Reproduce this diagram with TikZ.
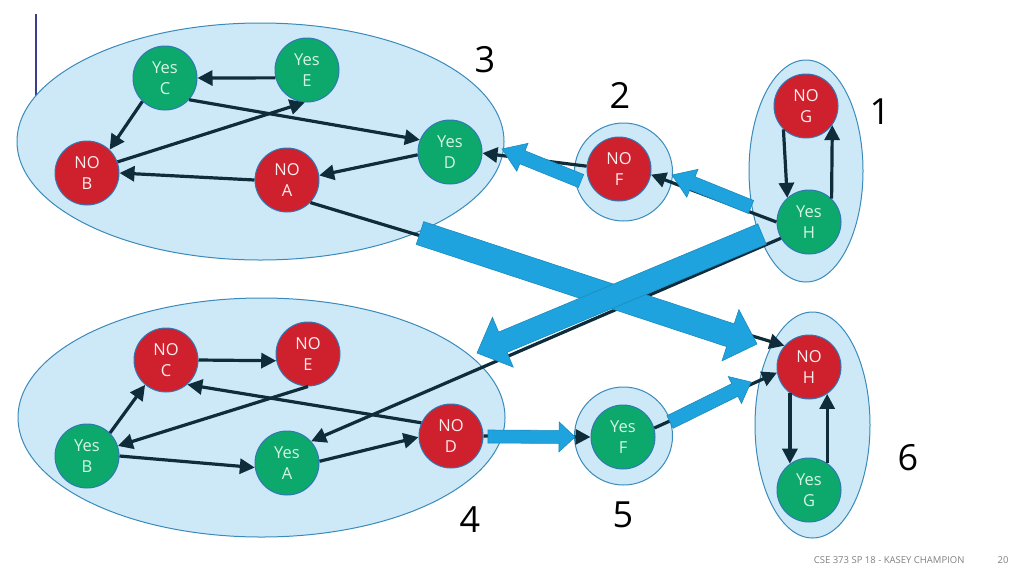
\documentclass[tikz,border=0pt]{standalone}
\usepackage{fontspec}
\setmainfont{Open Sans}
\usetikzlibrary{arrows.meta,calc,shapes.geometric}
\definecolor{sccfill}{HTML}{CDE9F7}
\definecolor{sccline}{HTML}{3A8ABB}
\definecolor{nored}{HTML}{CF202E}
\definecolor{yesgreen}{HTML}{0DA86B}
\definecolor{nodeline}{HTML}{2F78B5}
\definecolor{edgecol}{HTML}{0F2C3A}
\definecolor{blockblue}{HTML}{1FA3DF}
\definecolor{notext}{HTML}{FDEDED}
\definecolor{yestext}{HTML}{D6F5E6}
\definecolor{footgray}{HTML}{7F7F7F}
\definecolor{barcol}{HTML}{3C3C8C}
\tikzset{
  scc/.style={draw=sccline, fill=sccfill, line width=1pt, inner sep=0pt},
  vtx/.style={circle, minimum size=64pt, inner sep=0pt, draw=nodeline, line width=1pt, align=center, font=\fontsize{16.5}{21.5}\selectfont},
  novtx/.style={vtx, fill=nored, text=notext},
  yesvtx/.style={vtx, fill=yesgreen, text=yestext},
  edge/.style={draw=edgecol, line width=3.2pt, -{Triangle[length=15pt,width=15pt]}},
  bigarrow/.style={fill=blockblue, draw=blockblue!85!black, line width=0.6pt},
  sccnum/.style={font=\fontsize{36}{36}\selectfont, text=black},
  foot/.style={font=\fontsize{9.5}{9.5}\selectfont, text=footgray},
}
\newcommand\blockarrow[5]{%
  \coordinate (ba-hb) at ($(#2)!#5!(#1)$);
  \draw[bigarrow] ($(#1)!#3!90:(#2)$) -- ($(ba-hb)!#3!-90:(#1)$) -- ($(ba-hb)!#4!-90:(#1)$) -- (#2) -- ($(ba-hb)!#4!90:(#1)$) -- ($(ba-hb)!#3!90:(#1)$) -- ($(#1)!#3!-90:(#2)$) -- cycle;
}
\begin{document}
\begin{tikzpicture}[x=1pt,y=-1pt]
\useasboundingbox (0,0) rectangle (1024,576);
% left bar
\coordinate (bar1) at (36,14);
\coordinate (bar2) at (36,113);
\draw[barcol, line width=1.5pt] (bar1) -- (bar2);
% SCC groups
\node[scc, ellipse, minimum width=487pt, minimum height=237pt] (g3) at (260.5,141.5) {};
\node[scc, circle, minimum size=98pt] (g2) at (623.5,172) {};
\node[scc, ellipse, minimum width=114pt, minimum height=222pt] (g1) at (806,171) {};
\node[scc, ellipse, minimum width=487pt, minimum height=239pt] (g4) at (261.5,417.5) {};
\node[scc, circle, minimum size=98pt] (g5) at (623.5,436) {};
\node[scc, ellipse, minimum width=115pt, minimum height=226pt] (g6) at (812.5,425) {};
% vertices
\node[yesvtx] (tC) at (165,78) {Yes\\C};
\node[yesvtx] (tE) at (307,70) {Yes\\E};
\node[novtx] (tB) at (87,173) {NO\\B};
\node[novtx] (tA) at (287,180) {NO\\A};
\node[yesvtx] (tD) at (450,152) {Yes\\D};
\node[novtx] (tF) at (619,169) {NO\\F};
\node[novtx] (tG) at (806,106) {NO\\G};
\node[yesvtx] (tH) at (809,222) {Yes\\H};
\node[novtx] (bC) at (166,360) {NO\\C};
\node[novtx] (bE) at (308,354) {NO\\E};
\node[yesvtx] (bB) at (87,456) {Yes\\B};
\node[yesvtx] (bA) at (287,463) {Yes\\A};
\node[novtx] (bD) at (451,436) {NO\\D};
\node[yesvtx] (bF) at (623,437) {Yes\\F};
\node[novtx] (bH) at (809,367) {NO\\H};
\node[yesvtx] (bG) at (809,490) {Yes\\G};
% edges
\draw[edge] (tE.194) -- (tC.0);
\draw[edge] (tC.226) -- (tB.46);
\draw[edge] (tB.20) -- (tE.266);
\draw[edge] (tC.-42) -- (tD.158);
\draw[edge] (tD.185) -- (tA.8);
\draw[edge] (tA.180) -- (tB.0);
\draw[edge] (tA.-44) -- (bH.139);
\draw[edge] (tF.175) -- (tD.-2);
\draw[edge] (tH.180) -- (tF.-10);
\draw[edge] (tG.226) -- (tH.132);
\draw[edge] (tH.46) -- (tG.-36);
\draw[edge] (tH.210) -- (bA.42);
\draw[edge] (bC.0) -- (bE.192);
\draw[edge] (bB.45) -- (bC.230);
\draw[edge] (bE.270) -- (bB.18);
\draw[edge] (bD.156) -- (bC.-49);
\draw[edge] (bB.0) -- (bA.188);
\draw[edge] (bA.3) -- (bD.182);
\draw[edge] (bD.0) -- (bF.180);
\draw[edge] (bF.16) -- (bH.190);
\draw[edge] (bH.234) -- (bG.126);
\draw[edge] (bG.56) -- (bH.304);
% condensation arrows
\coordinate (a36s) at (420,233);
\coordinate (a36e) at (757,344);
\coordinate (a23s) at (581,181);
\coordinate (a23e) at (502,149);
\coordinate (a12s) at (751,207);
\coordinate (a12e) at (672,175);
\coordinate (a45s) at (488,436.5);
\coordinate (a45e) at (575,437);
\coordinate (a56s) at (670,422);
\coordinate (a56e) at (751,382);
\coordinate (a14s) at (762,234);
\coordinate (a14e) at (477,353);
\blockarrow{a36s}{a36e}{12pt}{27pt}{28pt}
\blockarrow{a23s}{a23e}{7pt}{15pt}{22pt}
\blockarrow{a12s}{a12e}{7pt}{15pt}{22pt}
\blockarrow{a45s}{a45e}{6.5pt}{15pt}{16pt}
\blockarrow{a56s}{a56e}{7pt}{15pt}{18pt}
\blockarrow{a14s}{a14e}{11pt}{27pt}{28pt}
% SCC numbers
\node[sccnum] (n1) at (880,112) {1};
\node[sccnum] (n2) at (620,95) {2};
\node[sccnum] (n3) at (485,60) {3};
\node[sccnum] (n4) at (470,520) {4};
\node[sccnum] (n5) at (623,515) {5};
\node[sccnum] (n6) at (908,458) {6};
% footer
\node[foot, anchor=east] (ft) at (968,560) {CSE 373 SP 18 - KASEY CHAMPION};
\node[foot] (pg) at (1003,560) {20};
\end{tikzpicture}
\end{document}
